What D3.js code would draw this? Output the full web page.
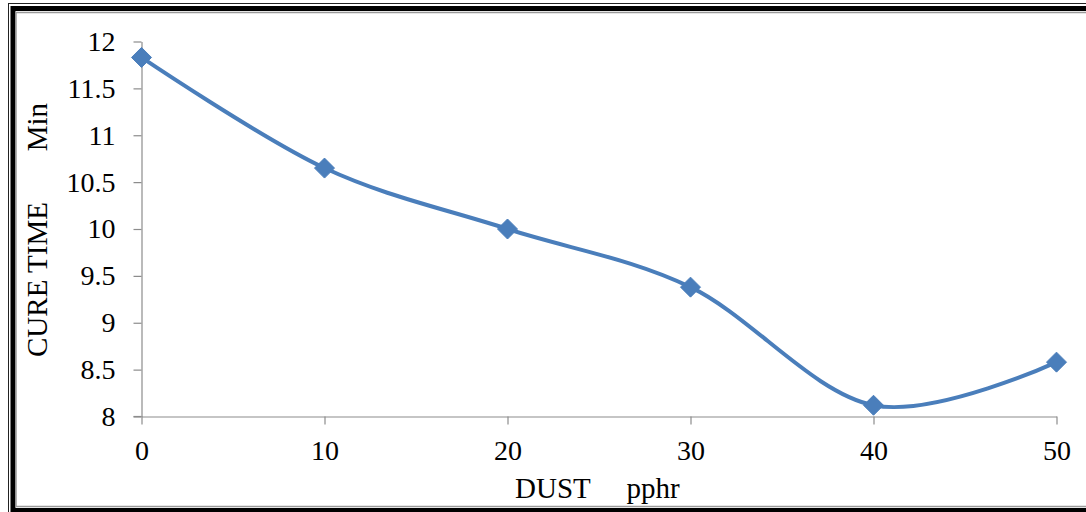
<!DOCTYPE html>
<html>
<head>
<meta charset="utf-8">
<script src="https://cdn.jsdelivr.net/npm/d3@7"></script>
<style>
  html, body { margin: 0; padding: 0; background: #fff; }
  svg { display: block; }
  text { font-family: "Liberation Serif", "Times New Roman", serif; fill: #000; }
</style>
</head>
<body>
<svg id="chart" width="1086" height="512"></svg>
<script>
// Dust loading (pphr) against cure time (min)
const dustLevels = [0, 10, 20, 30, 40, 50];
const cureTimes = [11.83, 10.65, 10.0, 9.38, 8.12, 8.58];
const xTickValues = [0, 10, 20, 30, 40, 50];
const yTickValues = [8, 8.5, 9, 9.5, 10, 10.5, 11, 11.5, 12];

const svg = d3.select("#chart");
const W = 1086, H = 512;

// frame: thin outer rule, heavy black band, light inner rule
svg.append("rect").attr("x", 8.5).attr("y", 3.5).attr("width", W + 20).attr("height", H + 20)
  .attr("fill", "none").attr("stroke", "#222").attr("stroke-width", 1);
svg.append("rect").attr("x", 13).attr("y", 8.5).attr("width", W + 20).attr("height", 502)
  .attr("fill", "none").attr("stroke", "#000").attr("stroke-width", 5);
svg.append("rect").attr("x", 16).attr("y", 12.5).attr("width", W + 20).attr("height", 494)
  .attr("fill", "none").attr("stroke", "#9a9a9a").attr("stroke-width", 1.5);

const x = d3.scaleLinear().domain([0, 50]).range([141.5, 1056.5]);
const y = d3.scaleLinear().domain([8, 12]).range([416.5, 41.5]);

const axisColor = "#8c8c8c";
const tickFont = "28px";

// y axis
const yAxis = svg.append("g").attr("transform", `translate(${x(0)},0)`)
  .call(d3.axisLeft(y).tickValues(yTickValues).tickSize(8).tickSizeOuter(0).tickPadding(18)
    .tickFormat(d3.format("")));
yAxis.select(".domain").attr("stroke", axisColor).attr("stroke-width", 1.2);
yAxis.selectAll(".tick line").attr("stroke", axisColor).attr("stroke-width", 1.2);
yAxis.selectAll(".tick text").style("font-size", tickFont).style("font-family", "Liberation Serif").attr("fill", "#000");

// x axis
const xAxis = svg.append("g").attr("transform", `translate(0,${y(8)})`)
  .call(d3.axisBottom(x).tickValues(xTickValues).tickSize(8).tickSizeOuter(0).tickPadding(16));
xAxis.select(".domain").attr("stroke", axisColor).attr("stroke-width", 1.2);
xAxis.selectAll(".tick line").attr("stroke", axisColor).attr("stroke-width", 1.2);
xAxis.selectAll(".tick text").style("font-size", tickFont).style("font-family", "Liberation Serif").attr("fill", "#000");

// extend horizontal axis slightly left of the vertical axis
svg.append("line").attr("x1", x(0) - 8).attr("x2", x(0)).attr("y1", y(8)).attr("y2", y(8))
  .attr("stroke", axisColor).attr("stroke-width", 1.2);

// axis titles
svg.append("text").attr("x", 515).attr("y", 498)
  .attr("xml:space", "preserve").style("white-space", "pre")
  .style("font-size", "29px").text("DUST     pphr");

svg.append("text")
  .attr("transform", "translate(47,357) rotate(-90)")
  .attr("xml:space", "preserve").style("white-space", "pre")
  .style("font-size", "29px").text("CURE TIME       Min");

// smoothed series line
const pts = dustLevels.map((d, i) => [d, cureTimes[i]]);
const line = d3.line().x(d => x(d[0])).y(d => y(d[1])).curve(d3.curveCardinal.tension(0));
svg.append("path").datum(pts).attr("d", line)
  .attr("fill", "none").attr("stroke", "#4a7ebb").attr("stroke-width", 4)
  .attr("stroke-linejoin", "round").attr("stroke-linecap", "round");

// diamond markers
svg.selectAll(".marker").data(pts).enter().append("path")
  .attr("class", "marker")
  .attr("transform", d => `translate(${x(d[0])},${y(d[1])})`)
  .attr("d", "M0,-10L10,0L0,10L-10,0Z")
  .attr("fill", "#4a7ebb").attr("stroke", "#4a7ebb").attr("stroke-width", 1);
</script>
</body>
</html>
